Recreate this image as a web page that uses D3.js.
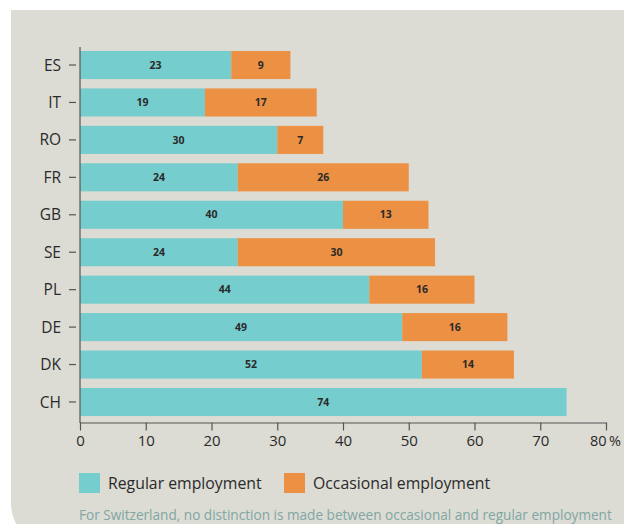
<!DOCTYPE html>
<html><head><meta charset="utf-8">
<script src="https://cdn.jsdelivr.net/npm/d3@7"></script>
<style>body{margin:0;background:#fff}svg{display:block}</style>
</head><body>
<script>
const countries = ["ES","IT","RO","FR","GB","SE","PL","DE","DK","CH"];
const regular = [23,19,30,24,40,24,44,49,52,74];
const occasional = [9,17,7,26,13,30,16,16,14,0];
const xTicks = [0,10,20,30,40,50,60,70,80];
const seriesNames = ["Regular employment","Occasional employment"];
const colors = ["#76cdcd","#ec9143"];
const footnote = "For Switzerland, no distinction is made between occasional and regular employment";

const W = 624, H = 524;
const font = "'Open Sans', 'Noto Sans', sans-serif";
const svg = d3.select("body").append("svg").attr("width", W).attr("height", H);

// panel
svg.append("path").attr("d", `M11,10 H${W+10} V${H+20} H51 A40,40 0 0 1 11,${H-20} Z`).attr("fill", "#dcdbd4");

const x = d3.scaleLinear().domain([0,80]).range([80,606]);
const y = d3.scaleBand().domain(countries).range([46.3,420.7]).paddingInner(0.25).paddingOuter(0.125);

const data = countries.map((c,i)=>({c, r: regular[i], o: occasional[i]}));
const stack = d3.stack().keys(["r","o"])(data);

stack.forEach((layer, li) => {
  const g = svg.append("g");
  g.selectAll("rect").data(layer).join("rect")
    .attr("x", d => x(d[0]))
    .attr("y", d => y(d.data.c))
    .attr("width", d => x(d[1]) - x(d[0]))
    .attr("height", y.bandwidth())
    .attr("fill", colors[li]);
  g.selectAll("text").data(layer.filter(d => d[1] - d[0] > 0)).join("text")
    .attr("x", d => (x(d[0]) + x(d[1]))/2)
    .attr("y", d => y(d.data.c) + y.bandwidth()/2)
    .attr("dy", "0.35em")
    .attr("text-anchor", "middle")
    .attr("font-family", font).attr("font-size", 10.5).attr("font-weight", "bold")
    .attr("fill", "#2a2a2a")
    .text(d => d[1] - d[0]);
});

// y axis
svg.append("line").attr("x1",80).attr("x2",80).attr("y1",47).attr("y2",423).attr("stroke","#555").attr("stroke-width",1.2);
const yg = svg.append("g");
yg.selectAll("line").data(countries).join("line")
  .attr("x1",69).attr("x2",76)
  .attr("y1", d => y(d) + y.bandwidth()/2).attr("y2", d => y(d) + y.bandwidth()/2)
  .attr("stroke","#555").attr("stroke-width",1.2);
yg.selectAll("text").data(countries).join("text")
  .attr("x", 61).attr("y", d => y(d) + y.bandwidth()/2).attr("dy","0.36em")
  .attr("text-anchor","end").attr("font-family", font).attr("font-size", 15.5).attr("fill","#2a2a2a")
  .text(d => d);

// x axis
const xa = svg.append("g").attr("transform","translate(0,422.5)")
  .call(d3.axisBottom(x).tickValues(xTicks).tickSize(8).tickSizeOuter(0).tickFormat(d => d === 80 ? "80\u2009%" : d));
xa.select(".domain").attr("stroke","#555").attr("stroke-width",1.2);
xa.selectAll(".tick line").attr("stroke","#555").attr("stroke-width",1.2);
xa.selectAll(".tick text").attr("font-family", font).attr("font-size", 15).attr("fill","#2a2a2a").attr("dy","0.85em");
xa.selectAll(".tick text").filter(d => d === 80).attr("text-anchor","start").attr("dx","-16.5").attr("font-size", 14.5);

// legend
const lg = svg.append("g");
const lx = [79, 284];
seriesNames.forEach((n,i) => {
  lg.append("rect").attr("x", lx[i]).attr("y", 473).attr("width", 21).attr("height", 20).attr("fill", colors[i]);
  lg.append("text").attr("x", lx[i] + 29).attr("y", 483).attr("dy","0.36em")
    .attr("font-family", font).attr("font-size", 15.8).attr("fill","#2a2a2a").text(n);
});

svg.append("text").attr("x", 79).attr("y", 520)
  .attr("font-family", font).attr("font-size", 13.6).attr("fill","#7fa7a3").text(footnote);
</script>
</body></html>
